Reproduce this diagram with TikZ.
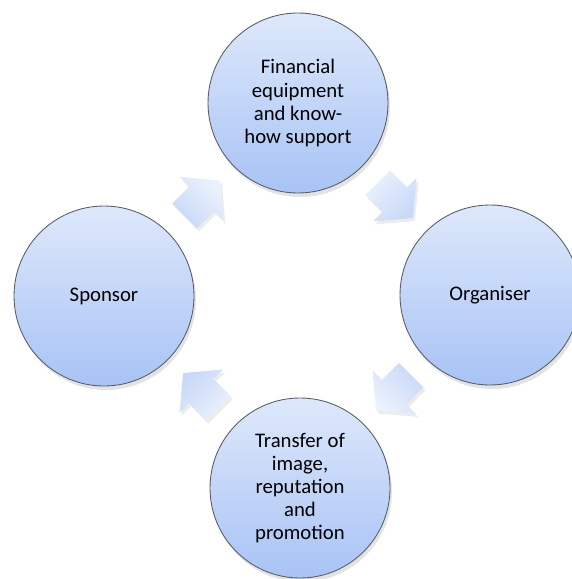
\documentclass[tikz,border=0pt]{standalone}
\usepackage{fontspec}
\setmainfont{Carlito}
\usetikzlibrary{shapes.arrows,shadows,calc}
\definecolor{rimgray}{HTML}{5A5F66}
\definecolor{circtop}{HTML}{DEE8FB}
\definecolor{circbot}{HTML}{A8C3F5}
\definecolor{flowtop}{HTML}{ECF2FD}
\definecolor{flowbot}{HTML}{C8D8F7}
\pgfdeclarelayer{bg}
\pgfsetlayers{bg,main}
\tikzset{
    party/.style={circle, draw=rimgray, line width=0.5pt, inner sep=0mm, minimum size=3.6cm,
        align=center, font=\fontsize{11.8}{13.1}\selectfont,
        top color=circtop, bottom color=circbot,
        drop shadow={opacity=0.22, shadow xshift=0.4mm, shadow yshift=-0.8mm}}
}
\tikzset{
    flow/.style={single arrow, draw=none, inner xsep=0mm, inner ysep=0.34cm,
        minimum height=1.0cm, minimum width=1.0cm,
        single arrow head extend=0.27cm, single arrow tip angle=100,
        top color=flowtop, bottom color=flowbot,
        drop shadow={opacity=0.15, shadow xshift=0.4mm, shadow yshift=-0.6mm}}
}

\begin{document}
\begin{tikzpicture}
        \useasboundingbox (0cm, 0cm) rectangle (11.420000cm, -11.580000cm);
        \node (c0) [party] at (5.960000cm, -2.060000cm) {Financial\\equipment\\and know-\\how support};
        \node (c1) [party] at (9.800000cm, -5.900000cm) {Organiser};
        \node (c2) [party] at (6.000000cm, -9.760000cm) {Transfer of\\image,\\reputation\\and\\promotion};
        \node (c3) [party] at (2.080000cm, -5.920000cm) {Sponsor};
        \begin{pgfonlayer}{bg}
                \node (a0) [flow, rotate=45, shading angle=-45] at ($(c3)!0.48!(c0)$) {};
                \node (a1) [flow, rotate=-45, shading angle=45] at ($(c0)!0.48!(c1)$) {};
                \node (a2) [flow, rotate=-135, shading angle=135] at ($(c1)!0.48!(c2)$) {};
                \node (a3) [flow, rotate=135, shading angle=-135] at ($(c2)!0.48!(c3)$) {};
        \end{pgfonlayer}
\end{tikzpicture}
\end{document}
